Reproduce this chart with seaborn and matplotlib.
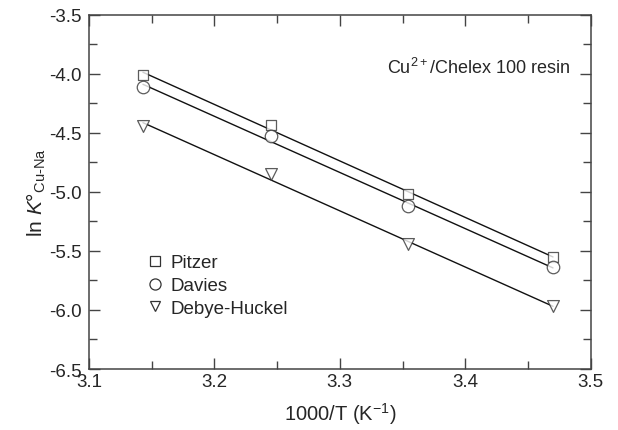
import numpy as np
import pandas as pd
import matplotlib
matplotlib.use("Agg")
import matplotlib.pyplot as plt
from matplotlib.lines import Line2D
from matplotlib.ticker import MultipleLocator, FormatStrFormatter
import seaborn as sns

# 1000/T values (K^-1) and ln K° for the three activity models
inv_temp = [3.143, 3.245, 3.354, 3.470]
pitzer = [-4.01, -4.43, -5.02, -5.55]
davies = [-4.11, -4.53, -5.12, -5.64]
debye_huckel = [-4.44, -4.85, -5.44, -5.97]

series = [("Pitzer", pitzer, "s", 7.5), ("Davies", davies, "o", 9), ("Debye-Huckel", debye_huckel, "v", 8.5)]

sns.set_style("ticks")
plt.rcParams["font.family"] = ["Liberation Sans", "DejaVu Sans"]
plt.rcParams["mathtext.fontset"] = "custom"
plt.rcParams["mathtext.rm"] = "Liberation Sans"
plt.rcParams["mathtext.it"] = "Liberation Sans:italic"

fig = plt.figure(figsize=(6.18, 4.31), dpi=100)
ax = fig.add_axes([0.144, 0.1415, 0.8117, 0.8221])

edge = "#333333"
handles = []
for name, vals, mk, ms in series:
    df = pd.DataFrame({"x": inv_temp, "y": vals})
    sns.regplot(data=df, x="x", y="y", ax=ax, ci=None, marker=mk,
                scatter_kws={"s": ms ** 2, "facecolors": "white", "edgecolors": edge,
                             "linewidths": 0.9, "zorder": 3},
                line_kws={"color": "#111111", "linewidth": 1.0, "zorder": 2})
    handles.append(Line2D([], [], linestyle="none", marker=mk, markersize=ms - 1,
                          markerfacecolor="white", markeredgecolor=edge,
                          markeredgewidth=0.9, label=name))

ax.set_xlim(3.1, 3.5)
ax.set_ylim(-6.5, -3.5)
ax.xaxis.set_major_locator(MultipleLocator(0.1))
ax.xaxis.set_minor_locator(MultipleLocator(0.05))
ax.yaxis.set_major_locator(MultipleLocator(0.5))
ax.yaxis.set_minor_locator(MultipleLocator(0.25))
ax.xaxis.set_major_formatter(FormatStrFormatter("%.1f"))
ax.yaxis.set_major_formatter(FormatStrFormatter("%.1f"))
ax.tick_params(which="both", direction="in", top=True, right=True, color="#444444",
               labelsize=13.5, width=1)
ax.tick_params(which="major", length=8)
ax.tick_params(axis="x", which="major", pad=3)
ax.tick_params(axis="y", which="major", pad=5)
ax.tick_params(which="minor", length=6)
for s in ax.spines.values():
    s.set_color("#444444")
    s.set_linewidth(1.1)

ax.set_xlabel(r"1000/T (K$^{-1}$)", fontsize=14.5, labelpad=7)
ax.set_ylabel(r"ln $K$°$_{\rm Cu\text{-}Na}$", fontsize=15, labelpad=1)
ax.text(0.959, 0.852, r"Cu$^{2+}$/Chelex 100 resin", transform=ax.transAxes,
        ha="right", va="center", fontsize=13)

ax.legend(handles=handles, loc="upper left", bbox_to_anchor=(0.097, 0.345), frameon=False,
          fontsize=13.5, handletextpad=0.35, labelspacing=0.3, borderaxespad=0, handlelength=1.0)

fig.savefig("out.png", dpi=100)
